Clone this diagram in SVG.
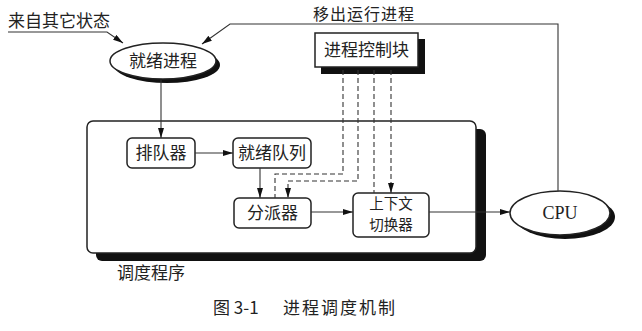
<svg xmlns="http://www.w3.org/2000/svg" width="642" height="331" viewBox="0 0 642 331">
<defs>
<marker id="ah" viewBox="0 0 10 6" refX="10" refY="3" markerWidth="10" markerHeight="6" markerUnits="userSpaceOnUse" orient="auto">
<path d="M0,0 L10,3 L0,6 Z" fill="#111"/>
</marker>
</defs>
<style>
.t{font-family:"Noto Sans CJK SC","Liberation Serif",serif;font-size:17px;fill:#222;}
.s{font-size:14.5px;}
.top{font-size:16px;}
.cpu{font-family:"Liberation Serif",serif;font-size:18px;fill:#222;}
.box{fill:#fff;stroke:#222;stroke-width:1.5;}
.ln{fill:none;stroke:#333;stroke-width:1.1;}
.da{fill:none;stroke:#333;stroke-width:1.1;stroke-dasharray:5,3;}
.sh{fill:#111;}
</style>
<rect width="642" height="331" fill="#fff"/>

<g id="scheduler">
<rect class="sh" x="96" y="129" width="390" height="132" rx="6"/>
<rect class="box" x="87" y="121" width="389" height="132" rx="6"/>
<text class="t" x="117" y="279">调度程序</text>
</g>

<g id="ready-process">
<ellipse class="sh" cx="167" cy="65" rx="53" ry="18"/>
<ellipse class="box" cx="163" cy="61" rx="53" ry="18"/>
<text class="t" x="163" y="67" text-anchor="middle">就绪进程</text>
</g>

<g id="pcb">
<rect class="sh" x="321" y="39" width="104" height="35"/>
<rect class="box" x="315" y="33" width="103" height="34"/>
<text class="t" x="366.5" y="56" text-anchor="middle">进程控制块</text>
</g>

<g id="queuer">
<rect class="box" x="127" y="138" width="68" height="30" rx="5"/>
<text class="t" x="161" y="159" text-anchor="middle">排队器</text>
</g>

<g id="ready-queue">
<rect class="box" x="233" y="138" width="78" height="30" rx="5"/>
<text class="t" x="272" y="159" text-anchor="middle">就绪队列</text>
</g>

<g id="dispatcher">
<rect class="box" x="234" y="198" width="77" height="30" rx="5"/>
<text class="t" x="272.5" y="219" text-anchor="middle">分派器</text>
</g>

<g id="context-switcher">
<rect class="box" x="353" y="193" width="76" height="44" rx="5"/>
<text class="t s" x="391" y="209" text-anchor="middle">上下文</text>
<text class="t s" x="391" y="230" text-anchor="middle">切换器</text>
</g>

<g id="cpu">
<ellipse class="sh" cx="565" cy="217" rx="50" ry="22"/>
<ellipse class="box" cx="560" cy="213" rx="50" ry="22"/>
<text class="cpu" x="560" y="219" text-anchor="middle">CPU</text>
</g>

<g id="labels">
<text class="t" x="8" y="27">来自其它状态</text>
<text class="t top" x="313" y="20" letter-spacing="1">移出运行进程</text>
<text class="t" x="213" y="314">图 3-1</text>
<text class="t" x="283" y="314" letter-spacing="2">进程调度机制</text>
</g>

<g id="connectors">
<path class="ln" d="M8,32 L107,32 L123,43" marker-end="url(#ah)"/>
<path class="ln" d="M558,191 L558,24 L230,24 L202,44" marker-end="url(#ah)"/>
<path class="ln" d="M161,80 L161,138" marker-end="url(#ah)"/>
<path class="ln" d="M195,153 L233,153" marker-end="url(#ah)"/>
<path class="ln" d="M260,168 L260,198" marker-end="url(#ah)"/>
<path class="ln" d="M311,212 L353,212" marker-end="url(#ah)"/>
<path class="ln" d="M429,212 L510,212" marker-end="url(#ah)"/>
<path class="da" d="M343,70 L343,174 L275,174 L275,198"/>
<path class="da" d="M358,70 L358,181 L288,181 L288,198" marker-end="url(#ah)"/>
<path class="da" d="M374,70 L374,193"/>
<path class="da" d="M391,70 L391,193" marker-end="url(#ah)"/>
</g>
</svg>
